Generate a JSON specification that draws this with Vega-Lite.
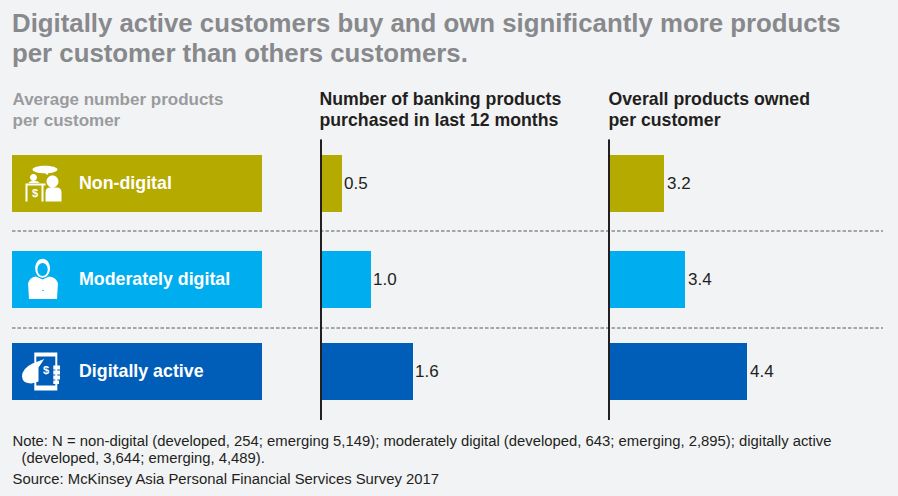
{
"$schema":"https://vega.github.io/schema/vega-lite/v6.json",
"width":898,"height":496,"autosize":"none","padding":0,
"background":"#f2f3f5",
"config":{"view":{"stroke":null},"font":"Liberation Sans","axis":{"grid":false,"domain":false,"ticks":false,"labels":false,"titleAlign":"left","titleBaseline":"alphabetic","titleAngle":0,"titleAnchor":"start","titleFont":"Liberation Sans"}},
"title":{"text":["Digitally active customers buy and own significantly more products","per customer than others customers."],"anchor":"start","frame":"group","orient":"top","baseline":"alphabetic","dx":12,"dy":87.5,"offset":0,"font":"Liberation Sans","fontSize":25.8,"fontWeight":"bold","color":"#88898c","lineHeight":30},
"data":{"values":[
{"segment":"Non-digital","row":1,"purchased":0.5,"owned":3.2},
{"segment":"Moderately digital","row":2,"purchased":1.0,"owned":3.4},
{"segment":"Digitally active","row":3,"purchased":1.6,"owned":4.4}
]},
"resolve":{"scale":{"x":"independent"},"axis":{"x":"independent"}},
"layer":[
{"mark":{"type":"rule","stroke":"#58595b","strokeWidth":1,"strokeDash":[3.5,2]},
 "data":{"values":[{"sep":1.5},{"sep":2.5}]},
 "encoding":{"x":{"datum":0,"type":"quantitative","scale":{"domain":[0,1],"range":[12,262],"nice":false,"zero":false},"axis":{"orient":"top","title":"Note: N = non-digital (developed, 254; emerging 5,149); moderately digital (developed, 643; emerging, 2,895); digitally active","titleX":12,"titleY":445,"titleFontSize":14.85,"titleFontWeight":"normal","titleColor":"#231f20"}},
 "x2":{"datum":3.484},
 "y":{"field":"sep","type":"quantitative","axis":null,"scale":{"domain":[0.5,1,1.5,2,2.5,3,3.5],"range":[135,183.5,231,279.5,328,371.5,425],"nice":false,"zero":false}}}},
{"mark":{"type":"bar","height":57,"orient":"horizontal"},
 "encoding":{"x":{"datum":1,"type":"quantitative","scale":{"domain":[0,1],"range":[12,262],"nice":false,"zero":false},"axis":{"orient":"top","title":["Average number products","per customer"],"titleX":12,"titleY":104,"titleFontSize":17,"titleFontWeight":"bold","titleColor":"#9a9b9e","titleLineHeight":21}},
 "y":{"field":"row","type":"quantitative","axis":null},
 "color":{"field":"segment","type":"nominal","legend":null,"scale":{"domain":["Non-digital","Moderately digital","Digitally active"],"range":["#b5aa00","#00aeef","#005eb8"]}}}},
{"mark":{"type":"text","align":"left","baseline":"middle","color":"#ffffff","fontSize":17.8,"fontWeight":"bold"},
 "encoding":{"x":{"datum":0.268,"type":"quantitative","scale":{"domain":[0,1],"range":[12,262],"nice":false,"zero":false},"axis":{"orient":"top","title":"Source: McKinsey Asia Personal Financial Services Survey 2017","titleX":12,"titleY":483,"titleFontSize":14.85,"titleFontWeight":"normal","titleColor":"#231f20"}},
 "y":{"field":"row","type":"quantitative","axis":null},"text":{"field":"segment"}}},
{"transform":[{"filter":"datum.row==1"}],
 "mark":{"type":"point","filled":true,"fill":"#ffffff","opacity":1,"strokeWidth":0,"size":400,"shape":"M-1.1,-1.4 A1.25,0.38 0 1,1 1.4,-1.4 A1.25,0.38 0 1,1 -1.1,-1.4Z M0.1,-1.05 L0.5,-1.05 L0.4,-0.85Z M-1.35,-0.6 A.35,.35 0 1,1 -.65,-.6 A.35,.35 0 1,1 -1.35,-.6Z M.3,-.2 A.6,.6 0 1,1 1.5,-.2 A.6,.6 0 1,1 .3,-.2Z M-1.5,-.05 Q-1.4,-.3 -1,-.25 Q-.5,-.3 -.4,-.05Z M-1.8,0 H.2 V.2 H0 V1.8 H-.2 V.2 H-1.6 V1.8 H-1.8Z M.2,1.8 V.9 Q.2,.4 .7,.4 H1.3 Q1.8,.4 1.8,.9 V1.8Z"},
 "encoding":{"x":{"datum":0.126,"type":"quantitative","scale":{"domain":[0,1],"range":[12,262],"nice":false,"zero":false},"axis":null},"y":{"field":"row","type":"quantitative","axis":null}}},
{"transform":[{"filter":"datum.row==2"}],
 "mark":{"type":"point","filled":true,"fill":"#ffffff","opacity":1,"strokeWidth":0,"size":400,"shape":"M-.78,-1.12 A.74,.95 0 1,1 .7,-1.12 A.74,.95 0 1,1 -.78,-1.12Z M-.55,-1 A.51,.65 0 1,0 .47,-1 A.51,.65 0 1,0 -.55,-1Z M-1.45,.4 Q-1.4,-.2 -.7,-.3 L-.04,.0 L.6,-.3 Q1.4,-.2 1.45,.4Z M-1.5,.3 H1.5 L1.4,1.95 H-1.4Z M-.08,1.1 A.08,.08 0 1,0 .08,1.1 A.08,.08 0 1,0 -.08,1.1Z"},
 "encoding":{"x":{"datum":0.124,"type":"quantitative","scale":{"domain":[0,1],"range":[12,262],"nice":false,"zero":false},"axis":null},"y":{"field":"row","type":"quantitative","axis":null}}},
{"transform":[{"filter":"datum.row==3"}],
 "mark":{"type":"point","filled":true,"fill":"#ffffff","opacity":1,"strokeWidth":0,"size":400,"shape":"M-.72,-1.9 H1.58 V1.9 H-.72Z M-.52,-1.5 V1.4 H1.38 V-1.5Z M.28,-1.25 L-.3,-.4 L-.3,1 L-1,1.2 Q-1.9,1.2 -1.95,.5 Q-1.95,-.3 -.9,-.8Z M1.18,-.6 H1.85 V-.2 H1.18Z M1.18,-.1 H1.85 V.3 H1.18Z M1.18,.4 H1.85 V.8 H1.18Z M1.18,.9 H1.75 V1.25 H1.18Z"},
 "encoding":{"x":{"datum":0.118,"type":"quantitative","scale":{"domain":[0,1],"range":[12,262],"nice":false,"zero":false},"axis":null},"y":{"field":"row","type":"quantitative","axis":null}}},
{"transform":[{"filter":"datum.row==1"}],
 "mark":{"type":"text","align":"center","baseline":"middle","color":"#ffffff","fontSize":11,"fontWeight":"bold","dy":10,"text":"$"},
 "encoding":{"x":{"datum":0.092,"type":"quantitative","scale":{"domain":[0,1],"range":[12,262],"nice":false,"zero":false},"axis":null},"y":{"field":"row","type":"quantitative","axis":null}}},
{"transform":[{"filter":"datum.row==3"}],
 "mark":{"type":"text","align":"center","baseline":"middle","color":"#ffffff","fontSize":11,"fontWeight":"bold","dy":-1,"text":"$"},
 "encoding":{"x":{"datum":0.136,"type":"quantitative","scale":{"domain":[0,1],"range":[12,262],"nice":false,"zero":false},"axis":null},"y":{"field":"row","type":"quantitative","axis":null}}},
{"mark":{"type":"bar","height":57,"orient":"horizontal"},
 "encoding":{"x":{"field":"purchased","type":"quantitative","scale":{"domain":[0,0.5,1,1.6],"range":[321,342,371,413],"nice":false,"zero":false},"axis":{"orient":"top","title":["Number of banking products","purchased in last 12 months"],"titleX":319,"titleY":104,"titleFontSize":17.7,"titleFontWeight":"bold","titleColor":"#231f20","titleLineHeight":21}},
 "x2":{"datum":0},
 "y":{"field":"row","type":"quantitative","axis":null},
 "color":{"field":"segment","type":"nominal","legend":null}}},
{"mark":{"type":"text","align":"left","baseline":"middle","dx":2,"fontSize":17,"color":"#231f20"},
 "encoding":{"x":{"field":"purchased","type":"quantitative","scale":{"domain":[0,0.5,1,1.6],"range":[321,342,371,413],"nice":false,"zero":false},"axis":null},
 "y":{"field":"row","type":"quantitative","axis":null},"text":{"field":"purchased","format":".1f"}}},
{"mark":{"type":"rule","stroke":"#231f20","strokeWidth":2},
 "encoding":{"x":{"datum":0,"type":"quantitative","scale":{"domain":[0,0.5,1,1.6],"range":[321,342,371,413],"nice":false,"zero":false},"axis":{"orient":"top","title":"(developed, 3,644; emerging, 4,489).","titleX":21,"titleY":462,"titleFontSize":14.85,"titleFontWeight":"normal","titleColor":"#231f20"}},
 "y":{"datum":0.5,"type":"quantitative","axis":null},"y2":{"datum":3.5}}},
{"mark":{"type":"bar","height":57,"orient":"horizontal"},
 "encoding":{"x":{"field":"owned","type":"quantitative","scale":{"domain":[0,3.2,3.4,4.4],"range":[609,664,685,747],"nice":false,"zero":false},"axis":{"orient":"top","title":["Overall products owned","per customer"],"titleX":608,"titleY":104,"titleFontSize":17.7,"titleFontWeight":"bold","titleColor":"#231f20","titleLineHeight":21}},
 "x2":{"datum":0},
 "y":{"field":"row","type":"quantitative","axis":null},
 "color":{"field":"segment","type":"nominal","legend":null}}},
{"mark":{"type":"text","align":"left","baseline":"middle","dx":3,"fontSize":17,"color":"#231f20"},
 "encoding":{"x":{"field":"owned","type":"quantitative","scale":{"domain":[0,3.2,3.4,4.4],"range":[609,664,685,747],"nice":false,"zero":false},"axis":null},
 "y":{"field":"row","type":"quantitative","axis":null},"text":{"field":"owned","format":".1f"}}},
{"mark":{"type":"rule","stroke":"#231f20","strokeWidth":2},
 "encoding":{"x":{"datum":0,"type":"quantitative","scale":{"domain":[0,3.2,3.4,4.4],"range":[609,664,685,747],"nice":false,"zero":false},"axis":null},
 "y":{"datum":0.5,"type":"quantitative","axis":null},"y2":{"datum":3.5}}}
]
}
